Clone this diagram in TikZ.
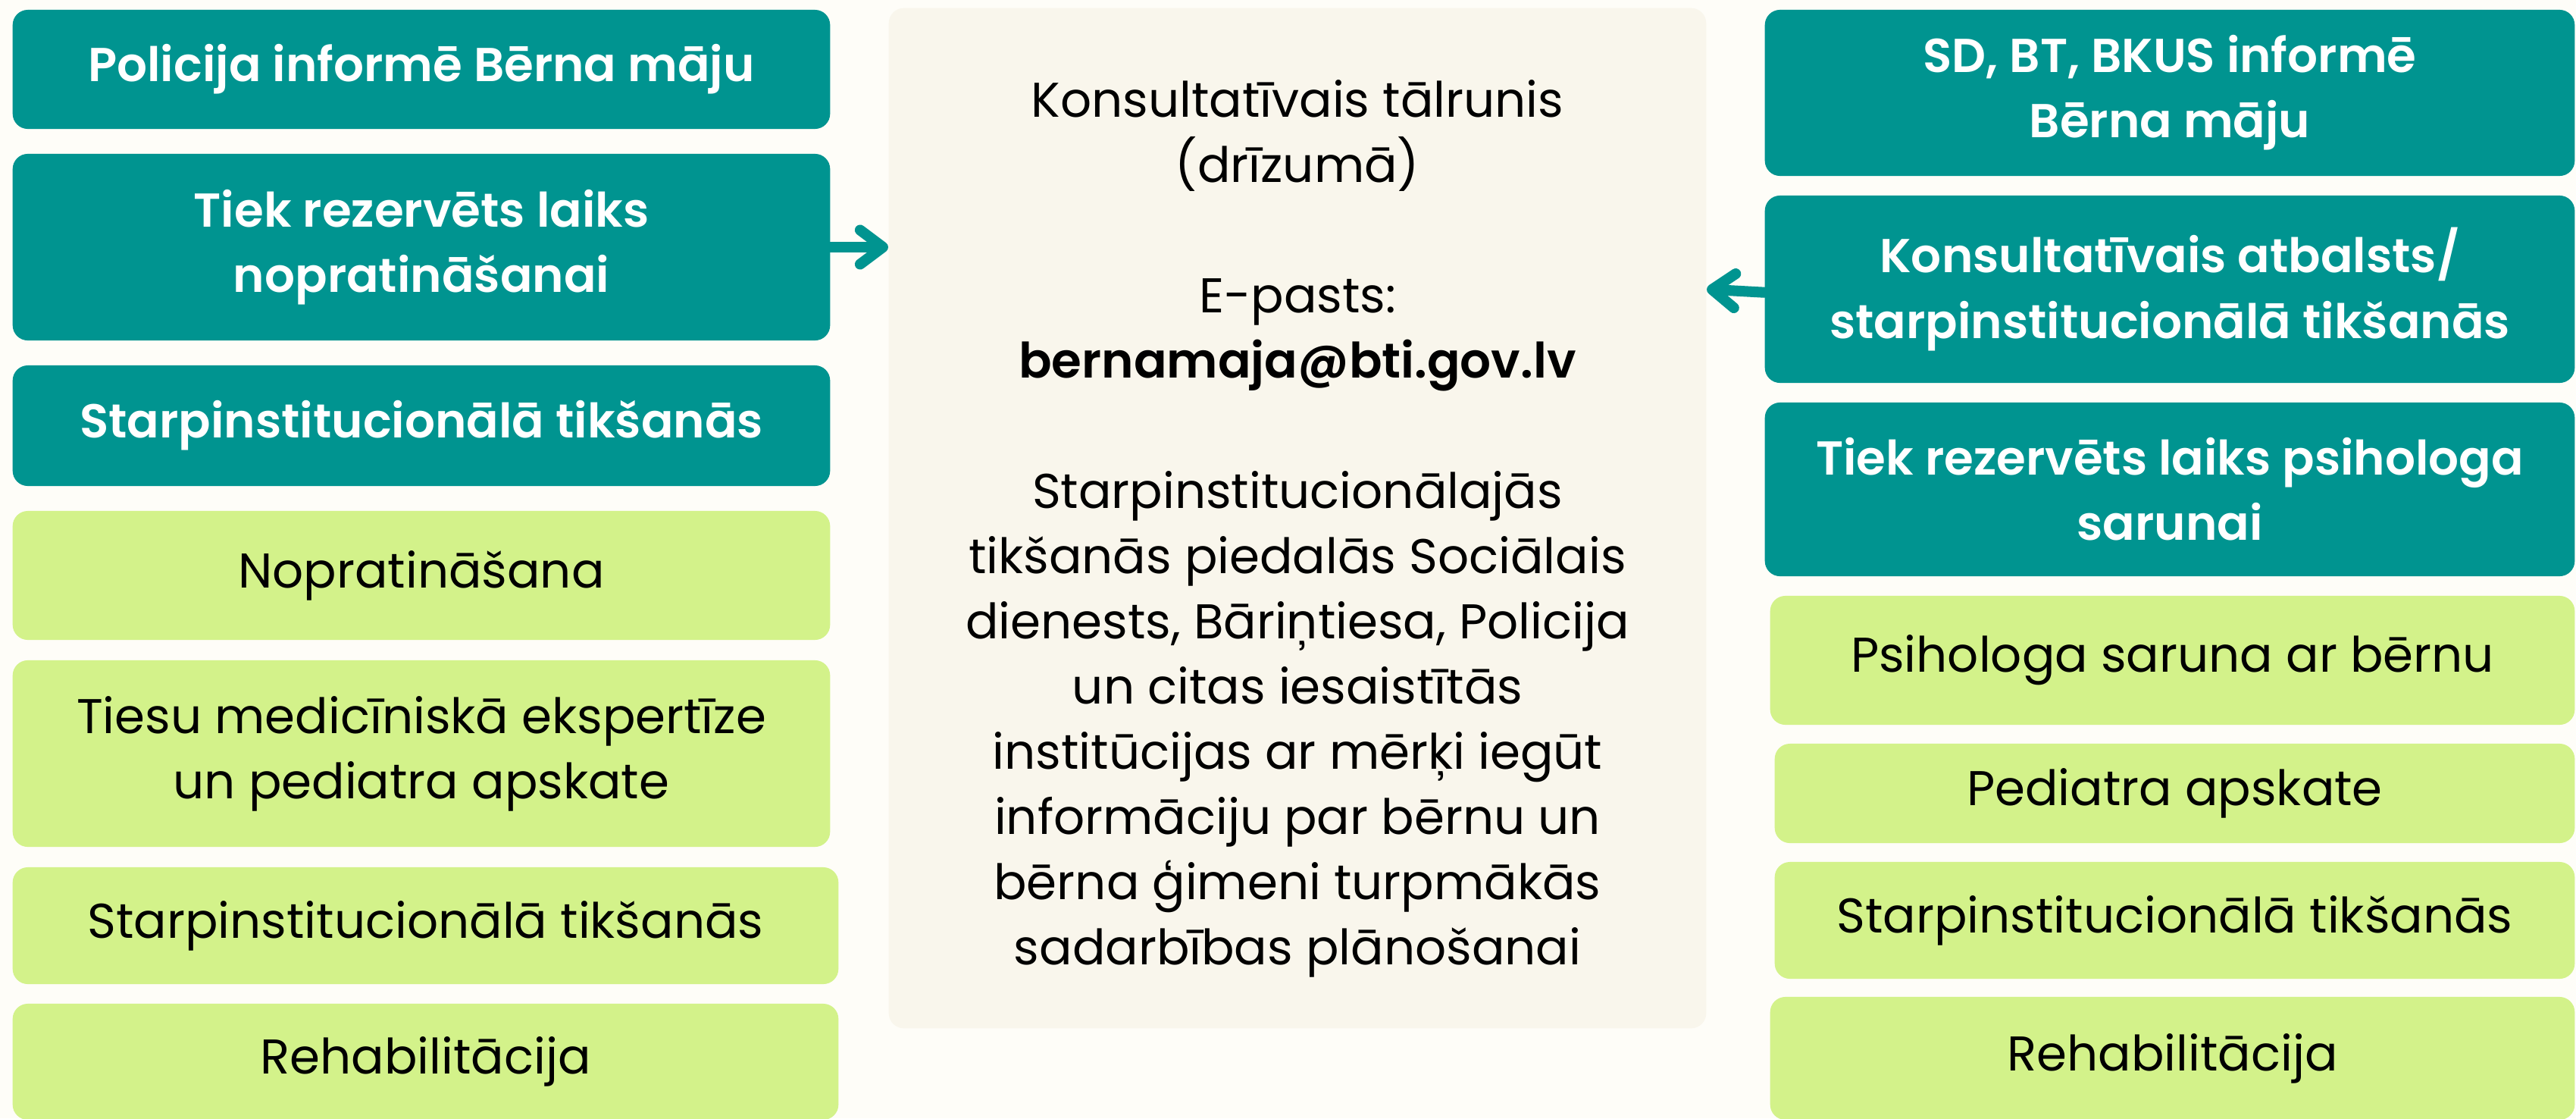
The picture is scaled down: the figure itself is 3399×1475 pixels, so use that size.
\documentclass[tikz,border=0pt]{standalone}
\usepackage{fontspec}
\setmainfont{Poppins}[BoldFont={Poppins SemiBold}]
\usetikzlibrary{arrows.meta}
\definecolor{teal1}{HTML}{009490}
\definecolor{lime1}{HTML}{D3F28A}
\definecolor{cream}{HTML}{F9F6EC}
\definecolor{bgc}{HTML}{FEFDF8}
\begin{document}
\begin{tikzpicture}[x=0.01cm,y=-0.01cm,
  box/.style={rectangle, rounded corners=0.2cm, inner sep=0pt, align=center},
  tealbox/.style={box, fill=teal1, text=white, font=\fontsize{17.85}{24.5}\selectfont\bfseries},
  limebox/.style={box, fill=lime1, text=black, font=\fontsize{18.3}{24.5}\selectfont},
  infobox/.style={box, fill=cream},
  infotext/.style={align=center, inner sep=0pt, text=black, font=\fontsize{18.3}{24.45}\selectfont},
  conn/.style={draw=teal1, line width=4pt, line cap=round, line join=round,
    -{Straight Barb[length=0.3cm, width=0.45cm, line cap=round, line join=round]}}
]
\fill[bgc] (0,0) rectangle (3399,1475);
\useasboundingbox (0,0) rectangle (3399,1475);
\clip (0,0) rectangle (3399,1475);

% left column
\node[tealbox, minimum width=10.78cm, minimum height=1.57cm] (L1) at (556,91.5) {Policija informē Bērna māju};
\node[tealbox, minimum width=10.78cm, minimum height=2.46cm] (L2) at (556,326) {Tiek rezervēts laiks\\nopratināšanai};
\node[tealbox, minimum width=10.78cm, minimum height=1.59cm] (L3) at (556,561.5) {Starpinstitucionālā tikšanās};
\node[limebox, minimum width=10.78cm, minimum height=1.70cm] (L4) at (556,759) {Nopratināšana};
\node[limebox, minimum width=10.78cm, minimum height=2.46cm] (L5) at (556,994) {Tiesu medicīniskā ekspertīze\\un pediatra apskate};
\node[limebox, minimum width=10.89cm, minimum height=1.54cm] (L6) at (561.5,1221) {Starpinstitucionālā tikšanās};
\node[limebox, minimum width=10.89cm, minimum height=1.53cm] (L7) at (561.5,1400.5) {Rehabilitācija};

% centre
\node[infobox, minimum width=10.78cm, minimum height=13.45cm] (C) at (1712,683.5) {};
\node[infotext] (CT) at (1712,697) {Konsultatīvais tālrunis\\(drīzumā)\\[24.45pt]E-pasts:\\\textbf{bernamaja@bti.gov.lv}\\[24.45pt]Starpinstitucionālajās\\tikšanās piedalās Sociālais\\dienests, Bāriņtiesa, Policija\\un citas iesaistītās\\institūcijas ar mērķi iegūt\\informāciju par bērnu un\\bērna ģimeni turpmākās\\sadarbības plānošanai};

% right column
\node[tealbox, minimum width=10.68cm, minimum height=2.19cm] (R1) at (2863,122.5) {SD, BT, BKUS informē\\Bērna māju};
\node[tealbox, minimum width=10.68cm, minimum height=2.47cm] (R2) at (2863,381.5) {Konsultatīvais atbalsts/\\starpinstitucionālā tikšanās};
\node[tealbox, minimum width=10.68cm, minimum height=2.29cm] (R3) at (2863,645.5) {Tiek rezervēts laiks psihologa\\sarunai};
\node[limebox, minimum width=10.61cm, minimum height=1.70cm] (R4) at (2866.5,871) {Psihologa saruna ar bērnu};
\node[limebox, minimum width=10.55cm, minimum height=1.31cm] (R5) at (2869.5,1046.5) {Pediatra apskate};
\node[limebox, minimum width=10.55cm, minimum height=1.54cm] (R6) at (2869.5,1214) {Starpinstitucionālā tikšanās};
\node[limebox, minimum width=10.61cm, minimum height=1.62cm] (R7) at (2866.5,1396) {Rehabilitācija};

% connectors
\draw[conn] (L2.east) -- (C.west |- L2.east);
\draw[conn] ([yshift=-1.2pt]R2.west) -- (C.east |- R2.west);
\end{tikzpicture}
\end{document}
